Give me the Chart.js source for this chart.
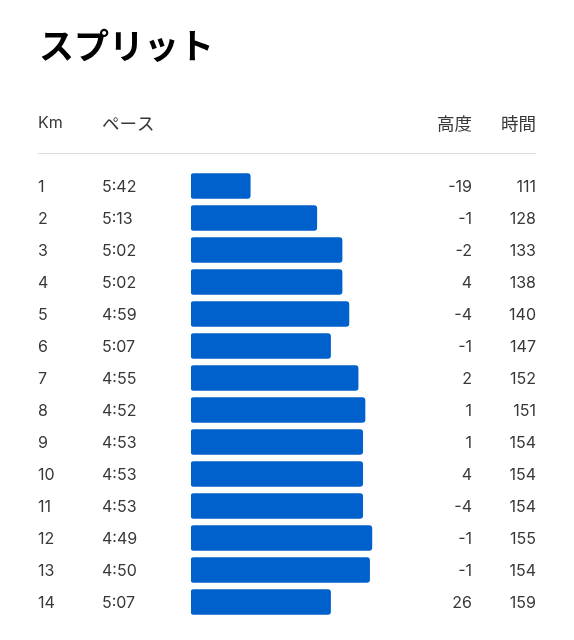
<!DOCTYPE html>
<html>
<head>
<meta charset="utf-8">
<script src="https://cdn.jsdelivr.net/npm/chart.js@4"></script>
<style>
  html, body { margin: 0; padding: 0; background: #fff; }
  #wrap { position: relative; width: 574px; height: 640px; }
</style>
</head>
<body>
<div id="wrap"><canvas id="c" width="574" height="640"></canvas></div>
<script>
// ---- data ----
const title = "スプリット";
const headers = ["Km", "ペース", "高度", "時間"];
const km = ["1","2","3","4","5","6","7","8","9","10","11","12","13","14"];
const pace = ["5:42","5:13","5:02","5:02","4:59","5:07","4:55","4:52","4:53","4:53","4:53","4:49","4:50","5:07"];
const elevation = [-19,-1,-2,4,-4,-1,2,1,1,4,-4,-1,-1,26];
const timeCol = [111,128,133,138,140,147,152,151,154,154,154,155,154,159];

const paceSeconds = pace.map(p => { const [m, s] = p.split(":").map(Number); return m * 60 + s; });

const LATIN = "Inter, 'Noto Sans CJK JP', sans-serif";
const CJK = "'Noto Sans CJK JP', sans-serif";
const TEXT = "#383838";

const tablePlugin = {
  id: "tableText",
  afterDraw(chart) {
    const ctx = chart.ctx;
    const y = chart.scales.y;
    ctx.save();
    // title
    ctx.fillStyle = "#000";
    ctx.font = "bold 35px " + CJK;
    ctx.textBaseline = "middle";
    ctx.textAlign = "left";
    ctx.fillText(title, 39, 46);
    // header
    ctx.fillStyle = TEXT;
    ctx.font = "16px " + LATIN;
    ctx.fillText(headers[0], 38, 123);
    ctx.font = "17.5px " + CJK;
    ctx.fillText(headers[1], 102, 123);
    ctx.textAlign = "right";
    ctx.fillText(headers[2], 472, 123);
    ctx.fillText(headers[3], 536, 123);
    // separator
    ctx.strokeStyle = "#dddddd";
    ctx.lineWidth = 1;
    ctx.beginPath();
    ctx.moveTo(38, 153.5);
    ctx.lineTo(536, 153.5);
    ctx.stroke();
    // rows
    ctx.font = "16px " + LATIN;
    ctx.fillStyle = TEXT;
    km.forEach((k, i) => {
      const py = y.getPixelForValue(i) + 1;
      ctx.textAlign = "left";
      ctx.fillText(k, 38, py);
      ctx.fillText(pace[i], 102, py);
      ctx.textAlign = "right";
      ctx.fillText(String(elevation[i]), 472, py);
      ctx.fillText(String(timeCol[i]), 536, py);
    });
    ctx.restore();
  }
};

new Chart(document.getElementById("c"), {
  type: "bar",
  data: {
    labels: km,
    datasets: [{
      data: paceSeconds,
      base: 367.8,
      backgroundColor: "#0060CC",
      borderRadius: 3,
      borderSkipped: false,
      barThickness: 25
    }]
  },
  options: {
    indexAxis: "y",
    responsive: false,
    animation: false,
    devicePixelRatio: 1,
    layout: { padding: { left: 191, right: 38, top: 170, bottom: 22 } },
    plugins: { legend: { display: false }, tooltip: { enabled: false } },
    scales: {
      x: { type: "linear", reverse: true, min: 217.5, max: 367.8, display: false },
      y: { type: "category", offset: true, display: false, grid: { display: false } }
    }
  },
  plugins: [tablePlugin]
});
</script>
</body>
</html>
